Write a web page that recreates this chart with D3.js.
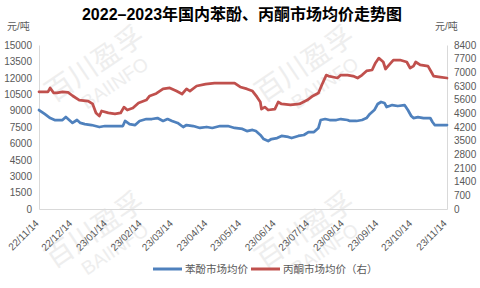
<!DOCTYPE html>
<html>
<head>
<meta charset="utf-8">
<script src="https://cdn.jsdelivr.net/npm/d3@7"></script>
<style>
  body { margin: 0; background: #fff; }
  text { font-family: "Liberation Sans", "Noto Sans CJK SC", sans-serif; }
</style>
</head>
<body>
<svg id="chart" width="480" height="288"></svg>
<script>
// 苯酚 (left axis)
var phenolDates = ['2022-11-14','2022-11-19','2022-11-24','2022-11-28','2022-12-05','2022-12-08','2022-12-12','2022-12-14',
  '2022-12-18','2022-12-21','2022-12-25','2022-12-31','2023-01-07','2023-01-12','2023-01-21','2023-01-28','2023-01-30',
  '2023-02-03','2023-02-08','2023-02-12','2023-02-18','2023-02-23','2023-02-28','2023-03-05','2023-03-09','2023-03-13',
  '2023-03-18','2023-03-23','2023-03-26','2023-04-01','2023-04-07','2023-04-13','2023-04-18','2023-04-25','2023-05-02',
  '2023-05-08','2023-05-15','2023-05-19','2023-05-24','2023-05-27','2023-05-31','2023-06-03','2023-06-07','2023-06-10',
  '2023-06-15','2023-06-19','2023-06-25','2023-06-28','2023-07-04','2023-07-09','2023-07-13','2023-07-18','2023-07-22',
  '2023-07-24','2023-07-28','2023-08-01','2023-08-07','2023-08-11','2023-08-17','2023-08-19','2023-08-25','2023-08-30',
  '2023-09-03','2023-09-06','2023-09-10','2023-09-13','2023-09-16','2023-09-19','2023-09-21','2023-09-26','2023-10-01',
  '2023-10-07','2023-10-10','2023-10-13','2023-10-15','2023-10-19','2023-10-24','2023-10-30','2023-11-01','2023-11-03',
  '2023-11-08','2023-11-14'];
var phenol = [9050,8690,8320,8140,8140,8410,8050,7870,
  8140,7870,7770,7680,7500,7590,7590,7590,8050,
  7770,7680,8050,8230,8230,8320,8050,8230,8050,
  7870,7500,7680,7590,7410,7500,7410,7590,7590,
  7410,7320,7130,7230,7130,6770,6400,6220,6400,
  6490,6680,6590,6490,6680,6770,7040,7040,7410,
  8140,8230,8140,8140,8230,8140,8050,8050,8140,
  8320,8690,9050,9600,9790,9700,9330,9510,9420,
  9510,9050,8510,8320,8410,8320,8320,7960,7680,
  7680,7680];

// 丙酮 (right axis)
var acetoneDates = ['2022-11-14','2022-11-22','2022-11-24','2022-11-27','2022-11-30','2022-12-05','2022-12-10','2022-12-14',
  '2022-12-20','2022-12-28','2023-01-01','2023-01-04','2023-01-07','2023-01-09','2023-01-15','2023-01-21','2023-01-26',
  '2023-01-29','2023-02-01','2023-02-06','2023-02-11','2023-02-18','2023-02-21','2023-02-27','2023-03-05','2023-03-11',
  '2023-03-17','2023-03-22','2023-03-26','2023-03-29','2023-04-04','2023-04-12','2023-04-20','2023-04-29','2023-05-08',
  '2023-05-13','2023-05-19','2023-05-24','2023-05-28','2023-05-31','2023-06-01','2023-06-04','2023-06-07','2023-06-13',
  '2023-06-16','2023-06-19','2023-06-27','2023-07-05','2023-07-12','2023-07-17','2023-07-22','2023-07-25','2023-07-29',
  '2023-07-31','2023-08-04','2023-08-08','2023-08-11','2023-08-17','2023-08-22','2023-08-26','2023-08-30','2023-09-03',
  '2023-09-08','2023-09-11','2023-09-14','2023-09-18','2023-09-20','2023-09-24','2023-09-27','2023-10-03','2023-10-09',
  '2023-10-12','2023-10-15','2023-10-17','2023-10-21','2023-10-28','2023-10-31','2023-11-02','2023-11-08','2023-11-14'];
var acetone = [6000,6000,6200,5950,5950,6000,5970,5800,
  5580,5530,5380,4920,4760,5020,4920,4870,4920,
  5220,5070,5170,5430,5580,5790,5920,6150,6200,
  6040,5890,6150,6040,6300,6400,6450,6450,6450,
  6250,6150,6040,5740,5480,5120,5220,5070,5120,
  5480,5380,5330,5380,5580,5790,5940,6350,6860,
  6810,6760,6710,6860,6860,6810,6710,6860,7070,
  7120,7480,7730,7530,7170,7430,7630,7630,7530,
  7220,7320,7530,7380,7320,7020,6810,6760,6710];

var tickDates = ['2022-11-14','2022-12-14','2023-01-14','2023-02-14','2023-03-14','2023-04-14','2023-05-14',
  '2023-06-14','2023-07-14','2023-08-14','2023-09-14','2023-10-14','2023-11-14'];
var leftTicks = [0,1500,3000,4500,6000,7500,9000,10500,12000,13500,15000];
var rightTicks = [0,700,1400,2100,2800,3500,4200,4900,5600,6300,7000,7700,8400];

var seriesNames = ['苯酚市场均价', '丙酮市场均价（右）'];
var colors = ['#4F81BD', '#C0504D'];

var parse = d3.timeParse('%Y-%m-%d');
var svg = d3.select('#chart');
var textColor = '#595959';
var axisColor = '#D9D9D9';

var x = d3.scaleTime()
  .domain([parse(tickDates[0]), parse(tickDates[tickDates.length - 1])])
  .range([39, 447]);
var yL = d3.scaleLinear().domain([0, 15000]).range([209, 45]);
var yR = d3.scaleLinear().domain([0, 8400]).range([209, 45]);

// watermark
var marks = [[100, 72], [310, 72], [100, 238], [310, 238]];
marks.forEach(function(m) {
  var g = svg.append('g')
    .attr('transform', 'translate(' + m[0] + ',' + m[1] + ') rotate(-34)')
    .style('fill', '#eeeeee');
  g.append('text')
    .attr('text-anchor', 'middle')
    .style('font-size', '28px')
    .style('font-family', '"Noto Sans CJK SC", sans-serif')
    .text('百川盈孚');
  g.append('text')
    .attr('text-anchor', 'middle')
    .attr('x', 6)
    .attr('y', 24)
    .style('font-size', '19px')
    .text('BAIINFO');
});

// title
svg.append('text')
  .attr('x', 242)
  .attr('y', 20)
  .attr('text-anchor', 'middle')
  .style('font-size', '16px')
  .style('font-weight', 'bold')
  .style('fill', '#000')
  .text('2022–2023年国内苯酚、丙酮市场均价走势图');

svg.append('text').attr('x', 7).attr('y', 30)
  .style('font-size', '10px').style('fill', textColor).text('元/吨');
svg.append('text').attr('x', 435).attr('y', 30)
  .style('font-size', '10px').style('fill', textColor).text('元/吨');

// axes
var leftAxis = svg.append('g')
  .attr('transform', 'translate(39,0)')
  .call(d3.axisLeft(yL).tickValues(leftTicks).tickSize(0).tickPadding(7).tickFormat(d3.format('d')));
var rightAxis = svg.append('g')
  .attr('transform', 'translate(447,0)')
  .call(d3.axisRight(yR).tickValues(rightTicks).tickSize(0).tickPadding(7).tickFormat(d3.format('d')));
var bottomAxis = svg.append('g')
  .attr('transform', 'translate(0,209)')
  .call(d3.axisBottom(x).tickValues(tickDates.map(parse)).tickSize(0).tickFormat(d3.timeFormat('%y/%m/%d')));

[leftAxis, rightAxis, bottomAxis].forEach(function(a) {
  a.select('.domain').attr('stroke', axisColor).attr('stroke-width', 1);
  a.selectAll('text').style('fill', textColor).style('font-size', '10px')
    .style('font-family', '"Liberation Sans", sans-serif');
});

bottomAxis.selectAll('.tick text')
  .attr('text-anchor', 'end')
  .attr('dy', null)
  .attr('y', 0)
  .attr('transform', 'translate(0,15) rotate(-45)');

// lines
var phenolData = phenolDates.map(function(d, i) { return { date: parse(d), value: phenol[i] }; });
var acetoneData = acetoneDates.map(function(d, i) { return { date: parse(d), value: acetone[i] }; });

var lineL = d3.line().x(function(d) { return x(d.date); }).y(function(d) { return yL(d.value); });
var lineR = d3.line().x(function(d) { return x(d.date); }).y(function(d) { return yR(d.value); });

svg.append('path')
  .datum(phenolData)
  .attr('d', lineL)
  .attr('fill', 'none')
  .attr('stroke', colors[0])
  .attr('stroke-width', 2.75)
  .attr('stroke-linejoin', 'round')
  .attr('stroke-linecap', 'round');

svg.append('path')
  .datum(acetoneData)
  .attr('d', lineR)
  .attr('fill', 'none')
  .attr('stroke', colors[1])
  .attr('stroke-width', 2.75)
  .attr('stroke-linejoin', 'round')
  .attr('stroke-linecap', 'round');

// legend
var legendX = [153, 251];
seriesNames.forEach(function(name, i) {
  svg.append('line')
    .attr('x1', legendX[i]).attr('x2', legendX[i] + 29)
    .attr('y1', 269).attr('y2', 269)
    .attr('stroke', colors[i])
    .attr('stroke-width', 3);
  svg.append('text')
    .attr('x', legendX[i] + 32)
    .attr('y', 273)
    .style('font-size', '10.5px')
    .style('fill', textColor)
    .style('font-family', '"Noto Sans CJK SC", sans-serif')
    .text(name);
});
</script>
</body>
</html>
